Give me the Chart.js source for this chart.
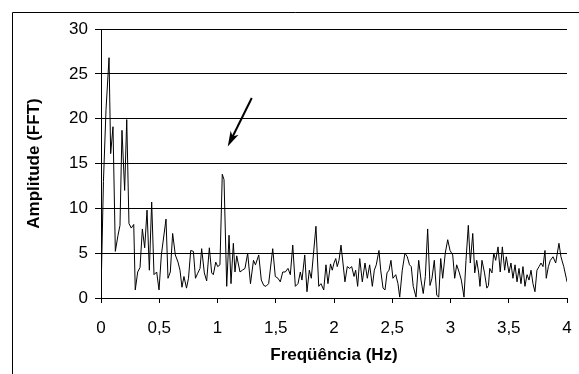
<!DOCTYPE html>
<html>
<head>
<meta charset="utf-8">
<script src="https://cdn.jsdelivr.net/npm/chart.js@4/dist/chart.umd.min.js"></script>
<style>
  html, body { margin: 0; padding: 0; background: #fff; }
  #wrap { width: 579px; height: 374px; position: relative; }
</style>
</head>
<body>
<div id="wrap"><canvas id="fftChart" width="579" height="374"></canvas></div>
<script>
// frequencies (Hz) and FFT amplitudes
const freqs = [
  0, 0.021, 0.043, 0.069, 0.083, 0.103, 0.123, 0.146, 0.163, 0.180,
  0.203, 0.221, 0.240, 0.260, 0.281, 0.294, 0.315, 0.335, 0.355, 0.375,
  0.395, 0.415, 0.435, 0.455, 0.478, 0.498, 0.518, 0.558, 0.575, 0.595,
  0.615, 0.638, 0.661, 0.678, 0.695, 0.712, 0.734, 0.751, 0.770, 0.793,
  0.811, 0.828, 0.850, 0.864, 0.887, 0.907, 0.930, 0.950, 0.964, 0.985,
  1.002, 1.021, 1.041, 1.056, 1.079, 1.099, 1.116, 1.136, 1.150, 1.165,
  1.193, 1.213, 1.236, 1.259, 1.283, 1.309, 1.326, 1.354, 1.376, 1.397,
  1.416, 1.439, 1.474, 1.496, 1.519, 1.539, 1.560, 1.582, 1.605, 1.625,
  1.646, 1.668, 1.691, 1.711, 1.725, 1.749, 1.768, 1.788, 1.805, 1.845,
  1.869, 1.888, 1.912, 1.931, 1.948, 1.970, 1.985, 2.000, 2.015, 2.028,
  2.043, 2.060, 2.077, 2.094, 2.114, 2.135, 2.152, 2.172, 2.186, 2.203,
  2.221, 2.243, 2.266, 2.286, 2.306, 2.329, 2.346, 2.363, 2.386, 2.401,
  2.421, 2.438, 2.455, 2.472, 2.489, 2.506, 2.530, 2.549, 2.564, 2.586,
  2.609, 2.629, 2.648, 2.663, 2.680, 2.704, 2.727, 2.747, 2.766, 2.784,
  2.804, 2.824, 2.841, 2.861, 2.882, 2.899, 2.916, 2.933, 2.955, 2.976,
  2.996, 3.019, 3.036, 3.053, 3.076, 3.093, 3.116, 3.133, 3.153, 3.170,
  3.191, 3.208, 3.225, 3.242, 3.253, 3.270, 3.292, 3.312, 3.326, 3.337,
  3.356, 3.371, 3.388, 3.408, 3.427, 3.445, 3.465, 3.479, 3.502, 3.519,
  3.536, 3.554, 3.571, 3.588, 3.605, 3.622, 3.639, 3.657, 3.674, 3.691,
  3.708, 3.725, 3.742, 3.760, 3.777, 3.794, 3.811, 3.822, 3.840, 3.857,
  3.880, 3.903, 3.931, 3.948, 3.972, 3.994, 4.000
];
const amps = [
  0.5, 13, 21, 26.8, 16.1, 19.1, 5.2, 7.0, 8.1, 18.7,
  12.0, 19.9, 8.3, 7.8, 8.2, 0.9, 2.9, 3.4, 7.7, 5.6,
  9.8, 3.1, 10.7, 2.6, 2.9, 0.9, 4.8, 8.8, 2.2, 2.9,
  7.2, 4.8, 4.0, 3.1, 1.2, 2.4, 1.1, 2.2, 5.3, 5.2,
  2.2, 2.7, 3.3, 5.5, 2.8, 1.9, 5.6, 2.8, 2.6, 4.0,
  3.5, 3.7, 13.8, 13.2, 1.3, 7.0, 1.6, 6.1, 2.9, 4.7,
  2.9, 3.1, 3.3, 5.0, 1.6, 4.2, 3.7, 4.8, 2.0, 1.4,
  1.3, 1.6, 5.5, 2.4, 2.2, 1.8, 2.9, 2.9, 3.3, 2.6,
  5.9, 1.3, 1.6, 2.9, 2.0, 4.8, 0.7, 3.1, 2.2, 8.0,
  1.3, 1.6, 0.9, 3.7, 1.6, 3.8, 3.1, 3.9, 4.4, 3.5,
  4.2, 5.9, 3.9, 1.8, 3.5, 3.3, 3.5, 2.4, 3.1, 1.3,
  4.4, 1.8, 3.9, 2.2, 3.7, 1.3, 3.1, 3.7, 5.3, 3.1,
  1.1, 0.9, 2.8, 3.1, 4.2, 2.2, 2.6, 1.6, 0.1, 3.1,
  5.0, 4.6, 3.7, 3.5, 1.3, 0.1, 4.2, 2.0, 0.5, 2.4,
  7.7, 1.4, 2.2, 4.2, 0.3, 0.1, 4.4, 2.2, 5.0, 6.5,
  5.3, 4.8, 2.2, 3.7, 2.8, 2.0, 0.1, 4.2, 8.1, 3.9,
  7.2, 2.8, 4.2, 2.8, 1.3, 4.2, 2.8, 1.1, 1.4, 3.3,
  2.8, 5.0, 4.2, 5.7, 2.9, 5.7, 3.1, 4.6, 2.8, 3.9,
  2.2, 3.7, 1.8, 3.3, 1.6, 3.5, 1.3, 2.6, 2.0, 3.1,
  1.6, 0.7, 3.1, 3.5, 3.9, 3.5, 5.3, 2.2, 3.5, 4.2,
  4.6, 3.9, 6.1, 4.6, 3.5, 2.2, 1.8
];
const xTicks = [0, 0.5, 1, 1.5, 2, 2.5, 3, 3.5, 4];
const yTicks = [0, 5, 10, 15, 20, 25, 30];
// arrow pointing at the 1 Hz peak: [freq, amp] tail and tip
const arrowTail = [1.294, 22.3];
const arrowTip = [1.088, 16.9];

const FONT = '"Liberation Sans", Arial, sans-serif';

// outer frame (left and top edges only are visible in the picture)
const framePlugin = {
    id: 'frame',
    beforeDraw(chart) {
        const ctx = chart.ctx;
        ctx.save();
        ctx.fillStyle = '#fff';
        ctx.fillRect(0, 0, chart.width, chart.height);
        ctx.strokeStyle = '#000';
        ctx.lineWidth = 1;
        ctx.beginPath();
        ctx.moveTo(12.5, chart.height);
        ctx.lineTo(12.5, 12.5);
        ctx.lineTo(chart.width, 12.5);
        ctx.stroke();
        ctx.restore();
    }
};

const arrowPlugin = {
    id: 'arrow',
    afterDatasetsDraw(chart) {
        const { ctx, scales: { x, y } } = chart;
        const x1 = x.getPixelForValue(arrowTail[0]), y1 = y.getPixelForValue(arrowTail[1]);
        const x2 = x.getPixelForValue(arrowTip[0]), y2 = y.getPixelForValue(arrowTip[1]);
        const ang = Math.atan2(y2 - y1, x2 - x1);
        const len = 16, half = 0.28;
        ctx.save();
        ctx.strokeStyle = '#000';
        ctx.fillStyle = '#000';
        ctx.lineWidth = 2;
        ctx.beginPath();
        ctx.moveTo(x1, y1);
        ctx.lineTo(x2 - Math.cos(ang) * 8, y2 - Math.sin(ang) * 8);
        ctx.stroke();
        ctx.beginPath();
        ctx.moveTo(x2, y2);
        ctx.lineTo(x2 - len * Math.cos(ang - half), y2 - len * Math.sin(ang - half));
        ctx.lineTo(x2 - len * 0.7 * Math.cos(ang), y2 - len * 0.7 * Math.sin(ang));
        ctx.lineTo(x2 - len * Math.cos(ang + half), y2 - len * Math.sin(ang + half));
        ctx.closePath();
        ctx.fill();
        ctx.restore();
    }
};

new Chart(document.getElementById('fftChart'), {
    type: 'line',
    data: {
        datasets: [{
            data: freqs.map((f, i) => ({ x: f, y: amps[i] })),
            borderColor: '#000',
            borderWidth: 1,
            pointRadius: 0,
            tension: 0,
            fill: false
        }]
    },
    options: {
        responsive: false,
        animation: false,
        events: [],
        layout: { padding: { top: 29, right: 12, left: 0, bottom: 0 } },
        plugins: { legend: { display: false }, tooltip: { enabled: false } },
        scales: {
            x: {
                type: 'linear',
                min: 0,
                max: 4,
                afterBuildTicks: s => { s.ticks = xTicks.map(v => ({ value: v })); },
                afterFit: s => { s.height = 76; s.paddingLeft = 0; s.paddingRight = 0; },
                ticks: {
                    color: '#000',
                    padding: 15,
                    maxRotation: 0,
                    font: { family: FONT, size: 17 },
                    callback: v => String(v).replace('.', ',')
                },
                grid: { drawOnChartArea: false, drawTicks: true, tickLength: 5, tickColor: '#000' },
                border: { display: true, color: '#000', width: 1 },
                title: {
                    display: true,
                    text: 'Freqüência (Hz)',
                    color: '#000',
                    font: { family: FONT, size: 17, weight: 'bold' },
                    padding: { top: 0, bottom: 8 }
                }
            },
            y: {
                min: 0,
                max: 30,
                afterBuildTicks: s => { s.ticks = yTicks.map(v => ({ value: v })); },
                afterFit: s => { s.width = 101; s.paddingTop = 0; s.paddingBottom = 0; },
                ticks: {
                    color: '#000',
                    padding: 7,
                    font: { family: FONT, size: 17 }
                },
                grid: { color: '#000', lineWidth: 1, drawTicks: true, tickLength: 6, tickColor: '#000' },
                border: { display: true, color: '#000', width: 1 },
                title: {
                    display: true,
                    text: 'Amplitude (FFT)',
                    color: '#000',
                    font: { family: FONT, size: 17, weight: 'bold' },
                    padding: { top: 24, bottom: 0 }
                }
            }
        }
    },
    plugins: [framePlugin, arrowPlugin]
});
</script>
</body>
</html>
